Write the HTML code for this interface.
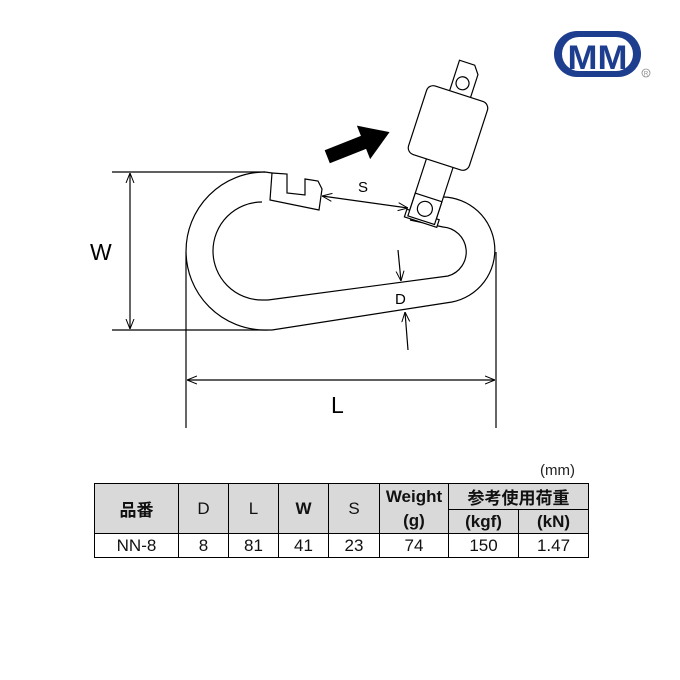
<!DOCTYPE html>
<html><head><meta charset="utf-8"><style>
body{margin:0;background:#fff;width:680px;height:680px;overflow:hidden;font-family:"Liberation Sans","Noto Sans CJK JP",sans-serif}
table{position:absolute;left:94px;top:483px;border-collapse:collapse;font-size:17px}
td{border:1px solid #000;text-align:center;padding:0;color:#111}
.h{background:#d9d9d9}
</style></head><body>
<svg width="680" height="680" style="position:absolute;left:0;top:0" font-family="Liberation Sans, sans-serif">
<defs><marker id="a" viewBox="0 0 10 10" refX="10" refY="5" markerWidth="10" markerHeight="10" orient="auto-start-reverse" markerUnits="userSpaceOnUse"><path d="M0,1 L10,5 L0,9" fill="none" stroke="#000" stroke-width="1"/></marker></defs>
<g stroke="#000" stroke-width="1.2" fill="none">
<line x1="112" y1="172" x2="265" y2="172"/><line x1="112" y1="330" x2="268" y2="330"/>
<line x1="186" y1="252" x2="186" y2="428"/><line x1="496" y1="252" x2="496" y2="428"/>
<line x1="130" y1="173" x2="130" y2="329" marker-start="url(#a)" marker-end="url(#a)"/>
<line x1="187" y1="380" x2="495" y2="380" marker-start="url(#a)" marker-end="url(#a)"/>
<path d="M272,173 L265,172 A79,79 0 0 0 265,330 L272,330 L452,302 A53,53 0 0 0 443,197 L440,197" fill="#fff"/>
<path d="M262,202 A49,49 0 0 0 262,300 L268,300 L448,276 A25,25 0 0 0 443,227 L410,220"/>
<path d="M272,173 L287,174 L287,193 L305,195 L305,179 L318,181 L322,189 L319,210 L270,200 Z" fill="#fff"/>
<line x1="322" y1="196" x2="408" y2="208" marker-start="url(#a)" marker-end="url(#a)"/>
<g transform="rotate(18 448 128)" fill="#fff">
<path d="M438,95 L438,60 L454,60 L460,68 L460,95 Z"/>
<circle cx="448" cy="81" r="6.5"/>
<path d="M437,160 L465,160 L465,224 L437,224 Z"/>
<path d="M434,218 L468,218 L468,226 L434,226 Z"/>
<path d="M437,200 L465,200 L465,224 L437,224 Z"/>
<circle cx="451" cy="212" r="7.5"/>
<rect x="416" y="92" width="64" height="72" rx="7"/>
</g>
<line x1="398" y1="250" x2="401" y2="281" marker-end="url(#a)"/>
<line x1="408" y1="350" x2="405" y2="312" marker-end="url(#a)"/>
</g>
<g transform="rotate(-21.6 357 145)"><polygon points="325,138 364,138 364,127 392,145 364,163 364,152 325,152" fill="#000"/></g>
<text x="358" y="192" font-size="15">S</text>
<text x="395" y="304" font-size="15">D</text>
<text x="90" y="260" font-size="23">W</text>
<text x="331" y="413" font-size="23">L</text>
<text x="540" y="475" font-size="15" fill="#222">(mm)</text>
<rect x="554" y="31" width="87" height="46" rx="23" fill="#1d3d8f"/>
<rect x="562" y="37" width="71" height="34" rx="17" fill="#fff"/>
<text x="597.5" y="69" font-size="34" font-weight="bold" fill="#1d3d8f" text-anchor="middle" textLength="60" lengthAdjust="spacingAndGlyphs">MM</text>
<circle cx="646" cy="73" r="4" fill="none" stroke="#888" stroke-width="0.8"/>
<text x="646" y="75.5" font-size="6" fill="#888" text-anchor="middle">R</text>
</svg>
<table>
<tr style="height:24px"><td class="h" rowspan="2" style="width:83px;font-weight:bold">品番</td><td class="h" rowspan="2" style="width:49px">D</td><td class="h" rowspan="2" style="width:49px">L</td><td class="h" rowspan="2" style="width:49px;font-weight:bold">W</td><td class="h" rowspan="2" style="width:50px">S</td><td class="h" rowspan="2" style="width:68px;font-weight:bold;line-height:24px">Weight<br>(g)</td><td class="h" colspan="2" style="font-weight:bold">参考使用荷重</td></tr>
<tr style="height:24px"><td class="h" style="width:69px;font-weight:bold">(kgf)</td><td class="h" style="width:69px;font-weight:bold">(kN)</td></tr>
<tr style="height:24px"><td>NN-8</td><td>8</td><td>81</td><td>41</td><td>23</td><td>74</td><td>150</td><td>1.47</td></tr>
</table>
</body></html>
